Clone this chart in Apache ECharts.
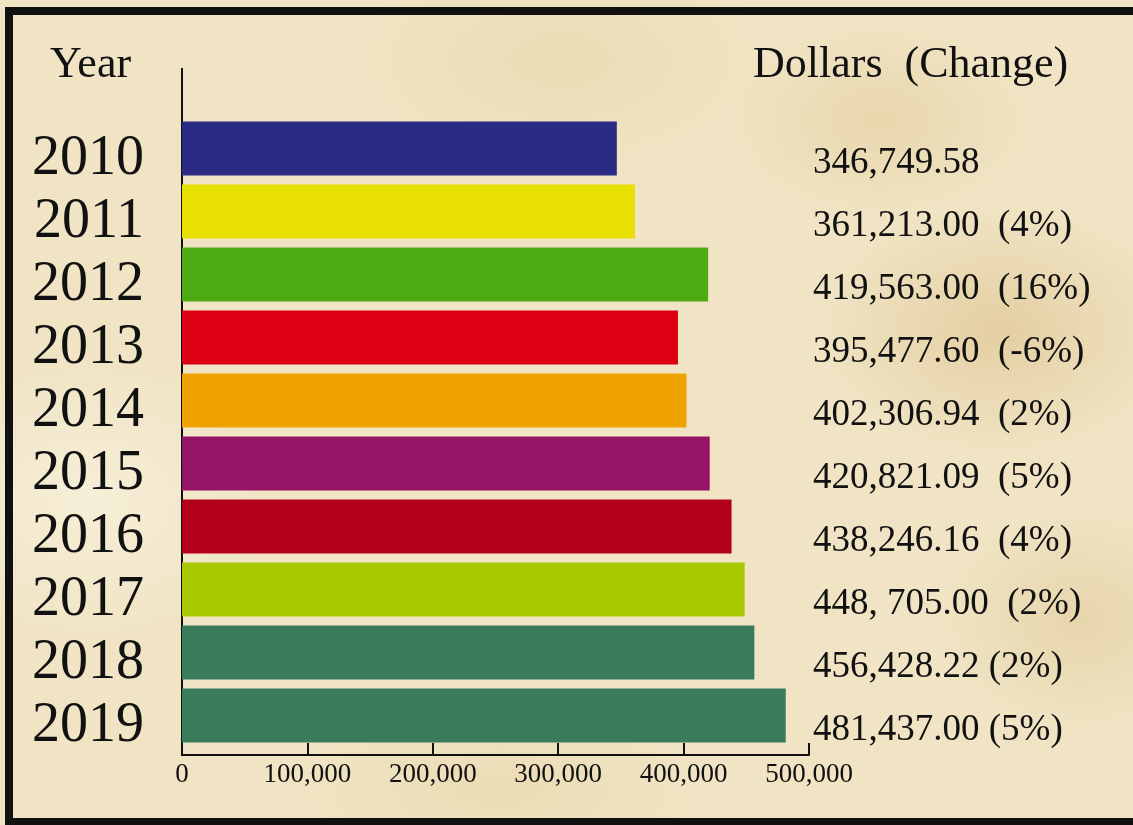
<!DOCTYPE html>
<html>
<head>
<meta charset="utf-8">
<script src="https://cdn.jsdelivr.net/npm/echarts@6/dist/echarts.min.js"></script>
<style>
  html, body { margin: 0; padding: 0; }
  body {
    width: 1133px; height: 825px; overflow: hidden; position: relative;
    background-color: #f0e4c4;
    background-image:
      radial-gradient(ellipse 260px 180px at 1000px 330px, rgba(214, 180, 120, 0.45), rgba(214, 180, 120, 0) 70%),
      radial-gradient(ellipse 220px 140px at 880px 120px, rgba(220, 190, 130, 0.35), rgba(220, 190, 130, 0) 70%),
      radial-gradient(ellipse 300px 160px at 560px 60px, rgba(225, 200, 145, 0.3), rgba(225, 200, 145, 0) 70%),
      radial-gradient(ellipse 200px 160px at 1080px 620px, rgba(215, 185, 125, 0.35), rgba(215, 185, 125, 0) 70%),
      radial-gradient(ellipse 260px 200px at 90px 500px, rgba(250, 245, 228, 0.6), rgba(250, 245, 228, 0) 70%),
      radial-gradient(ellipse 300px 120px at 500px 790px, rgba(228, 205, 150, 0.35), rgba(228, 205, 150, 0) 70%);
  }
  #frame {
    position: absolute; left: 5px; top: 7px; width: 1150px; height: 803px;
    border: 8px solid #111;
  }
  #chart { position: absolute; left: 0; top: 0; width: 1133px; height: 825px; }
</style>
</head>
<body>
<div id="frame"></div>
<div id="chart"></div>
<script>
// 年份（纵轴类目）
const years = ['2010', '2011', '2012', '2013', '2014', '2015', '2016', '2017', '2018', '2019']
// 金额
const dollars = [346749.58, 361213.00, 419563.00, 395477.60, 402306.94, 420821.09, 438246.16, 448705.00, 456428.22, 481437.00]
// 右侧文字（金额与变化）
const dollarLabels = [
  '346,749.58',
  '361,213.00  (4%)',
  '419,563.00  (16%)',
  '395,477.60  (-6%)',
  '402,306.94  (2%)',
  '420,821.09  (5%)',
  '438,246.16  (4%)',
  '448, 705.00  (2%)',
  '456,428.22 (2%)',
  '481,437.00 (5%)'
]
const barColors = ['#2b2a82', '#e8e000', '#4eaa12', '#dd0012', '#f0a300', '#951466', '#b5001c', '#a8c800', '#387c5c', '#387c5c']
// 横轴刻度
const xTicks = [0, 100000, 200000, 300000, 400000, 500000]

const serif = '"Liberation Serif", "DejaVu Serif", serif'

const chart = echarts.init(document.getElementById('chart'))

chart.setOption({
  backgroundColor: 'transparent',
  textStyle: { fontFamily: serif, color: '#111' },
  title: [
    {
      text: 'Year',
      left: 45,
      top: 38,
      textStyle: { fontFamily: serif, fontSize: 44, fontWeight: 'normal', color: '#111' }
    },
    {
      text: 'Dollars  (Change)',
      left: 748,
      top: 38,
      textStyle: { fontFamily: serif, fontSize: 44, fontWeight: 'normal', color: '#111' }
    }
  ],
  grid: {
    left: 182,
    right: 324,
    top: 117,
    bottom: 78
  },
  xAxis: {
    type: 'value',
    min: xTicks[0],
    max: xTicks[xTicks.length - 1],
    interval: 100000,
    offset: 8,
    axisLine: { show: true, lineStyle: { color: '#111', width: 2 } },
    axisTick: { show: true, inside: true, length: 12, lineStyle: { color: '#111', width: 2 } },
    splitLine: { show: false },
    axisLabel: {
      color: '#111',
      fontFamily: serif,
      fontSize: 27,
      margin: 6,
      formatter: (val) => val === 0 ? '0' : val.toLocaleString('en-US')
    }
  },
  yAxis: [
    {
      type: 'category',
      data: years,
      inverse: true,
      axisLine: { show: false },
      axisTick: { show: false },
      axisLabel: {
        interval: 0,
        margin: 38,
        formatter: (v) => '{y|' + v + '}',
        rich: {
          y: { color: '#111', fontFamily: serif, fontSize: 56, padding: [22, 0, 0, 0] }
        }
      }
    },
    {
      type: 'category',
      data: dollarLabels,
      inverse: true,
      position: 'right',
      axisLine: { show: false },
      axisTick: { show: false },
      axisLabel: {
        interval: 0,
        margin: 4,
        align: 'left',
        formatter: (v) => '{d|' + v + '}',
        rich: {
          d: { color: '#111', fontFamily: serif, fontSize: 37, padding: [30, 0, 0, 0] }
        }
      }
    }
  ],
  series: [
    {
      type: 'bar',
      yAxisIndex: 0,
      data: dollars.map((v, i) => ({ value: v, itemStyle: { color: barColors[i] } })),
      barWidth: 54,
      silent: true
    }
  ],
  graphic: [
    {
      type: 'line',
      shape: { x1: 182, y1: 68, x2: 182, y2: 756 },
      style: { stroke: '#111', lineWidth: 2 }
    }
  ]
})
</script>
</body>
</html>
